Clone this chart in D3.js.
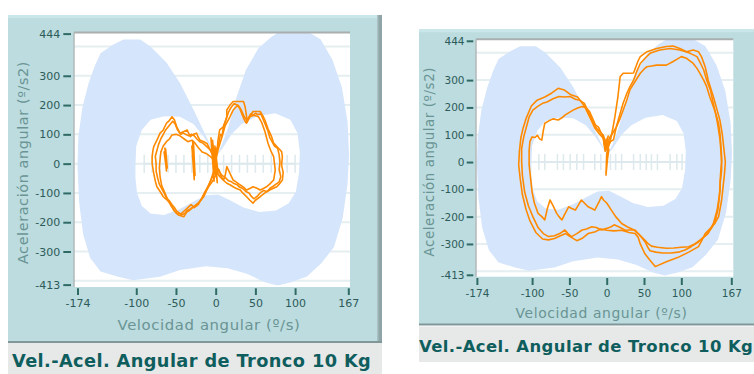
<!DOCTYPE html>
<html><head><meta charset="utf-8">
<script src="https://cdn.jsdelivr.net/npm/d3@7"></script>
<style>body{margin:0;background:#fff}svg{display:block}</style>
</head><body>
<svg id="c" width="754" height="374"></svg>
<script>
// ---------------- DATA ----------------
const chartTitle = "Vel.-Acel. Angular de Tronco 10 Kg";
const xAxisTitle = "Velocidad angular (º/s)";
const yAxisTitle = "Aceleración angular (º/s2)";
const xDomain = [-174, 167];
const yDomain = [-413, 444];
const xTickValues = [-174, -100, -50, 0, 50, 100, 167];
const yTickValues = [444, 300, 200, 100, 0, -100, -200, -300, -413];
const gridValues = [-400, -300, -200, -100, 0, 100, 200, 300, 400];

// normal-range band (outer silhouette and inner hole), in data units
const bandOuter = [[-116,424],[-95,424],[-82,400],[-62,345],[-45,275],[-28,185],[-14,105],[-5,55],[1,28],[7,60],[16,125],[26,225],[38,320],[54,395],[70,432],[85,458],[110,460],[132,425],[147,355],[159,260],[166,145],[168,30],[166,-70],[160,-185],[149,-285],[133,-340],[115,-385],[95,-405],[78,-416],[62,-405],[40,-377],[15,-357],[-12,-350],[-45,-363],[-70,-386],[-104,-398],[-124,-385],[-145,-368],[-158,-322],[-167,-240],[-172,-130],[-174,-10],[-173,90],[-168,190],[-160,275],[-152,335],[-145,377],[-130,405]];
const bandInner = [[-101,0],[-100,60],[-93,115],[-82,150],[-65,162],[-45,160],[-28,135],[-15,92],[-5,50],[1,25],[8,50],[20,100],[33,135],[52,162],[75,172],[94,150],[103,105],[106,40],[105,-30],[101,-95],[92,-135],[76,-160],[55,-165],[35,-150],[18,-125],[3,-105],[-12,-108],[-25,-125],[-45,-155],[-65,-175],[-82,-170],[-93,-145],[-99,-100],[-101,-50]];

// left chart trajectories
const leftLoop1 = [[0,25],[2,50],[3,81],[5,115],[10,126],[14,160],[14,183],[18,200],[22,212],[28,212],[35,212],[37,195],[39,160],[39,138],[43,160],[47,178],[52,178],[56,178],[60,160],[62,149],[66,118],[70,95],[73,70],[77,58],[80,50],[83,41],[84,24],[83,-5],[85,-30],[84,-56],[80,-70],[77,-79],[72,-85],[68,-90],[62,-100],[56,-113],[50,-125],[47,-135],[43,-125],[39,-113],[34,-100],[31,-90],[26,-85],[22,-79],[18,-72],[14,-67],[9,-55],[5,-44],[2,-30],[-1,-45],[-3,-56],[-6,-68],[-9,-79],[-12,-95],[-15,-113],[-19,-125],[-22,-135],[-26,-143],[-30,-152],[-33,-160],[-36,-164],[-40,-181],[-44,-178],[-47,-175],[-50,-168],[-53,-158],[-57,-135],[-61,-125],[-66,-113],[-70,-95],[-74,-79],[-76,-60],[-78,-33],[-80,0],[-80,24],[-79,45],[-78,58],[-74,80],[-70,104],[-66,115],[-62,138],[-59,145],[-55,160],[-52,150],[-49,126],[-45,104],[-40,110],[-36,115],[-32,92],[-28,100],[-24,104],[-22,90],[-20,81],[-15,75],[-11,69],[-7,47],[-3,24],[0,25]];
const leftLoop2 = [[0,10],[3,47],[8,92],[12,130],[18,160],[22,183],[28,200],[32,185],[36,160],[39,149],[43,160],[48,165],[54,160],[58,140],[62,110],[66,69],[70,40],[73,24],[75,-22],[73,-56],[68,-70],[64,-79],[60,-85],[56,-90],[52,-84],[47,-79],[43,-85],[39,-90],[35,-80],[31,-73],[26,-63],[22,-56],[18,-33],[14,-10],[12,-40],[10,-56],[7,-45],[4,-20],[0,-10],[-3,-30],[-6,-55],[-10,-80],[-14,-100],[-18,-120],[-22,-140],[-27,-150],[-31,-140],[-35,-150],[-39,-160],[-43,-170],[-48,-172],[-52,-160],[-56,-145],[-60,-125],[-64,-100],[-68,-75],[-70,-45],[-71,-15],[-70,15],[-69,40],[-66,60],[-62,75],[-58,85],[-55,98],[-50,100],[-45,95],[-40,85],[-35,75],[-30,80],[-26,70],[-22,55],[-17,40],[-12,35],[-7,25],[-3,15],[0,10]];
const leftLoop3 = [[0,40],[4,70],[6,100],[8,95],[10,130],[13,150],[16,175],[19,190],[23,205],[27,200],[30,190],[33,170],[36,150],[38,140],[41,155],[44,170],[47,165],[50,172],[53,168],[57,170],[60,150],[63,130],[66,110],[68,90],[71,75],[74,60],[78,52],[80,30],[81,5],[80,-20],[82,-45],[80,-62],[76,-70],[72,-78],[68,-85],[65,-95],[60,-92],[56,-100],[52,-112],[48,-120],[45,-112],[42,-100],[38,-95],[34,-85],[30,-80],[27,-72],[23,-68],[20,-62],[16,-58],[12,-48],[8,-40],[4,-25],[1,-15],[-2,-35],[-5,-50],[-8,-70],[-11,-85],[-14,-100],[-17,-118],[-20,-130],[-24,-140],[-28,-148],[-32,-155],[-36,-160],[-39,-170],[-43,-175],[-46,-168],[-49,-162],[-52,-150],[-55,-140],[-58,-128],[-62,-118],[-65,-100],[-68,-85],[-71,-70],[-73,-50],[-75,-25],[-75,0],[-76,25],[-74,45],[-72,65],[-69,85],[-66,100],[-63,115],[-60,125],[-57,135],[-54,145],[-51,135],[-48,115],[-44,100],[-41,105],[-38,100],[-34,95],[-31,100],[-27,95],[-24,85],[-20,75],[-16,70],[-12,60],[-8,50],[-4,42],[0,40]];
const leftBurstA = [[-64,55],[-62,-20],[-65,40],[-61,-15],[-63,50],[-62,-25],[-64,30]];
const leftBurstB = [[-29,80],[-27,-55],[-30,60],[-27,-50],[-28,75],[-26,-40],[-29,40]];
const leftBurstC = [[-6,90],[-2,-60],[-5,70],[0,-40],[-4,80],[2,-65],[-1,60],[3,-30],[-3,50]];

// right chart trajectories
const rightLoop1 = [[0,45],[4,68],[8,120],[11,166],[15,239],[18,312],[22,325],[30,325],[36,326],[42,370],[45,386],[54,404],[67,416],[80,423],[89,425],[98,416],[107,404],[116,410],[123,404],[127,386],[132,349],[136,300],[143,239],[148,190],[152,150],[155,100],[157,50],[159,0],[158,-40],[156,-90],[154,-140],[150,-200],[145,-225],[140,-240],[132,-262],[127,-290],[123,-310],[110,-330],[95,-350],[80,-365],[65,-383],[58,-360],[51,-335],[45,-300],[42,-275],[38,-262],[30,-258],[20,-250],[10,-252],[0,-250],[-8,-245],[-15,-255],[-25,-262],[-32,-278],[-40,-288],[-48,-275],[-55,-262],[-62,-270],[-70,-280],[-78,-285],[-86,-282],[-95,-258],[-103,-215],[-108,-175],[-113,-120],[-116,-60],[-118,-10],[-117,40],[-115,90],[-112,125],[-108,160],[-101,205],[-94,225],[-83,238],[-74,252],[-65,270],[-57,264],[-48,246],[-39,238],[-30,205],[-22,160],[-16,125],[-10,104],[-4,85],[0,45]];
const rightLoop2 = [[1,60],[5,75],[9,81],[13,130],[18,178],[22,215],[27,252],[31,275],[36,300],[40,330],[45,361],[52,382],[58,398],[71,410],[85,416],[98,410],[105,405],[112,398],[121,386],[126,360],[130,337],[134,300],[139,264],[142,225],[145,190],[148,150],[150,117],[152,80],[153,44],[154,0],[153,-29],[152,-70],[152,-103],[150,-140],[148,-176],[143,-225],[136,-261],[130,-275],[125,-286],[118,-300],[110,-310],[100,-312],[90,-315],[80,-316],[68,-312],[60,-308],[56,-300],[51,-286],[46,-272],[42,-261],[38,-249],[30,-249],[25,-250],[16,-237],[10,-230],[6,-237],[0,-243],[-7,-249],[-14,-240],[-20,-237],[-27,-245],[-33,-249],[-40,-262],[-47,-273],[-52,-262],[-56,-249],[-63,-262],[-70,-270],[-78,-273],[-85,-262],[-92,-240],[-99,-200],[-105,-160],[-110,-110],[-113,-50],[-114,0],[-114,50],[-111,95],[-107,135],[-104,165],[-99,190],[-92,205],[-86,215],[-80,220],[-72,232],[-64,240],[-56,238],[-49,240],[-42,230],[-36,226],[-30,215],[-24,180],[-19,150],[-14,125],[-9,110],[-5,100],[1,60]];
const rightLoop3 = [[-2,40],[4,90],[9,110],[13,129],[18,160],[22,190],[27,228],[31,264],[38,295],[45,325],[50,340],[54,349],[60,352],[67,355],[75,355],[80,355],[89,368],[95,378],[100,386],[107,380],[116,361],[121,343],[125,325],[130,300],[134,276],[138,240],[143,203],[147,170],[150,140],[152,100],[153,60],[154,20],[154,-30],[152,-80],[151,-130],[149,-175],[146,-210],[141,-240],[135,-262],[128,-280],[122,-295],[113,-310],[105,-322],[96,-330],[86,-333],[75,-333],[66,-330],[58,-325],[55,-312],[52,-295],[48,-280],[42,-262],[36,-248],[28,-238],[20,-225],[12,-200],[6,-175],[0,-150],[-4,-140],[-7,-127],[-11,-150],[-16,-176],[-20,-170],[-25,-164],[-30,-150],[-34,-139],[-38,-158],[-42,-176],[-47,-170],[-51,-164],[-56,-190],[-60,-212],[-64,-200],[-67,-188],[-72,-160],[-76,-139],[-80,-175],[-83,-212],[-87,-200],[-92,-188],[-97,-150],[-100,-110],[-102,-60],[-104,-10],[-104,40],[-103,75],[-100,92],[-96,90],[-93,98],[-90,85],[-87,80],[-85,115],[-83,142],[-78,150],[-72,158],[-65,154],[-60,162],[-56,172],[-50,182],[-45,190],[-39,198],[-33,203],[-28,200],[-23,185],[-19,160],[-15,135],[-11,128],[-8,110],[-5,92],[-2,40]];
const rightSpike = [[-5,100],[-3,60],[2,95],[-2,40],[4,75],[0,30],[-1,-48],[1,10],[3,50]];

// event markers along the zero line (velocity values)
const leftMarkers = [-90,-80,-70,-60,-50,-40,-30,-20,-10,0,10,20,30,40,50,60,70,80,90,100];
const rightMarkers = [-91,-83,-66,-58,-49,-40,-31,-16,-8,5,12,20,36,45,53,60,68,85,94,101];

// ---------------- LAYOUT ----------------
const layouts = [
  {id:"L", panel:[8,15,377,342], shadowX:[377,382], bottomLine:341, titleBar:[8,343,382,374],
   plot:[74,32.5,350,287], xRange:[77.5,348.3], yRange:[284.6,33.6],
   yAxisX:71, yTick:7.7, yPad:3, xAxisY:288.3, xTick:6.7, xPad:4.5,
   tickFont:11, xTitleX:209, xTitleY:330, xTitleW:185, yTitleX:28, yTitleY:162.5, yTitleW:205,
   titleX:12, titleY:367, titleW:360, markerH:9,
   loops:[leftLoop1,leftLoop2,leftLoop3], bursts:[leftBurstA,leftBurstB,leftBurstC], markers:leftMarkers},
  {id:"R", panel:[419,29.3,760,324], shadowX:null, bottomLine:323.5, titleBar:[419,326.5,760,362],
   plot:[476,39.3,733.3,276.7], xRange:[476.9,731.3], yRange:[274.8,40.8],
   yAxisX:473.3, yTick:6.6, yPad:2.2, xAxisY:278, xTick:7, xPad:4.5,
   tickFont:10.5, xTitleX:601.5, xTitleY:318, xTitleW:173, yTitleX:433.5, yTitleY:161.7, yTitleW:190,
   titleX:419, titleY:352, titleW:334, markerH:8,
   loops:[rightLoop1,rightLoop2,rightLoop3], bursts:[rightSpike], markers:rightMarkers}
];

const svg = d3.select("#c");
const defs = svg.append("defs");

function fitText(sel, base, target) {
  const w = sel.node().getComputedTextLength();
  sel.attr("font-size", base * target / w);
}

layouts.forEach(L => {
  const g = svg.append("g");
  const [px0,py0,px1,py1] = L.panel;
  g.append("rect").attr("x",px0).attr("y",py0).attr("width",px1-px0).attr("height",py1-py0).attr("fill","#bcdcdf");
  g.append("rect").attr("x",px0).attr("y",py0).attr("width",px1-px0).attr("height",3).attr("fill","#c9e6e9");
  if (L.shadowX) {
    g.append("rect").attr("x",L.shadowX[0]).attr("y",py0).attr("width",L.shadowX[1]-L.shadowX[0]).attr("height",py1-py0+1).attr("fill","#8fa5a7");
    g.append("rect").attr("x",L.shadowX[0]).attr("y",py0).attr("width",1.5).attr("height",py1-py0+1).attr("fill","#a9c1c3");
  }
  g.append("rect").attr("x",px0).attr("y",L.bottomLine).attr("width",(L.shadowX?L.shadowX[1]:px1)-px0).attr("height",2).attr("fill","#80979a");
  const tb = L.titleBar;
  g.append("rect").attr("x",tb[0]).attr("y",tb[1]).attr("width",tb[2]-tb[0]).attr("height",tb[3]-tb[1]).attr("fill","#e7e8e8");

  const x = d3.scaleLinear().domain(xDomain).range(L.xRange);
  const y = d3.scaleLinear().domain(yDomain).range(L.yRange);
  const [ax0,ay0,ax1,ay1] = L.plot;

  g.append("rect").attr("x",ax0).attr("y",ay0).attr("width",ax1-ax0).attr("height",ay1-ay0).attr("fill","#fff");
  const cid = "clip"+L.id;
  defs.append("clipPath").attr("id",cid).append("rect").attr("x",ax0).attr("y",ay0).attr("width",ax1-ax0).attr("height",ay1-ay0);
  const pg = g.append("g").attr("clip-path",`url(#${cid})`);

  pg.selectAll("line.grid").data(gridValues).join("line").attr("class","grid")
    .attr("x1",ax0).attr("x2",ax1).attr("y1",d=>y(d)).attr("y2",d=>y(d))
    .attr("stroke","#e5eef0").attr("stroke-width",2);

  const lineGen = d3.line().x(d=>x(d[0])).y(d=>y(d[1]));
  pg.append("path").attr("d", lineGen(bandOuter)+"Z"+lineGen(bandInner)+"Z")
    .attr("fill","#d5e5fb").attr("fill-rule","evenodd");

  // zero-line markers
  const mExt = d3.extent(L.markers);
  pg.append("line").attr("x1",x(mExt[0])).attr("x2",x(mExt[1])).attr("y1",y(0)).attr("y2",y(0))
    .attr("stroke","#dde9ec").attr("stroke-width",2);
  pg.selectAll("line.mk").data(L.markers).join("line").attr("class","mk")
    .attr("x1",d=>x(d)).attr("x2",d=>x(d)).attr("y1",y(0)-L.markerH).attr("y2",y(0)+L.markerH)
    .attr("stroke","#dde9ec").attr("stroke-width",1.5);

  L.loops.concat(L.bursts).forEach(l => {
    pg.append("path").attr("d",lineGen(l)).attr("fill","none")
      .attr("stroke","#ff8a00").attr("stroke-width",1.6).attr("stroke-linejoin","round");
  });

  // plot inset borders
  g.append("line").attr("x1",ax0).attr("x2",ax1).attr("y1",ay0).attr("y2",ay0).attr("stroke","#a9aeae").attr("stroke-width",2);
  g.append("line").attr("x1",ax0).attr("x2",ax0).attr("y1",ay0).attr("y2",ay1).attr("stroke","#b3b8b8").attr("stroke-width",1.5);

  // axes
  const tickColor = "#2f6a66", labelColor = "#2d5b59";
  const ya = g.append("g").attr("transform",`translate(${L.yAxisX},0)`)
    .call(d3.axisLeft(y).tickValues(yTickValues).tickSize(L.yTick).tickPadding(L.yPad).tickFormat(d=>String(d)));
  const xa = g.append("g").attr("transform",`translate(0,${L.xAxisY})`)
    .call(d3.axisBottom(x).tickValues(xTickValues).tickSize(L.xTick).tickPadding(L.xPad).tickFormat(d=>String(d)));
  [ya,xa].forEach(a => {
    a.select(".domain").remove();
    a.selectAll(".tick line").attr("stroke",tickColor).attr("stroke-width",2);
    a.selectAll(".tick text").attr("fill",labelColor).attr("font-family","DejaVu Sans, Verdana, sans-serif")
      .attr("font-size",L.tickFont);
  });

  const xt = g.append("text").attr("x",L.xTitleX).attr("y",L.xTitleY).attr("text-anchor","middle")
    .attr("font-family","DejaVu Sans, sans-serif").attr("font-size",13)
    .attr("letter-spacing",0.6).attr("fill","#6a9494").text(xAxisTitle);
  fitText(xt, 13, L.xTitleW);
  const yt = g.append("text").attr("transform",`translate(${L.yTitleX},${L.yTitleY}) rotate(-90)`).attr("text-anchor","middle")
    .attr("font-family","DejaVu Sans, sans-serif").attr("font-size",13)
    .attr("letter-spacing",0.6).attr("fill","#6a9494").text(yAxisTitle);
  fitText(yt, 13, L.yTitleW);

  const t = g.append("text").attr("x",L.titleX).attr("y",L.titleY)
    .attr("font-family","DejaVu Sans, Verdana, sans-serif").attr("font-weight","bold")
    .attr("font-size",17).attr("letter-spacing",0.4).attr("fill","#0f5e5e").text(chartTitle);
  fitText(t, 17, L.titleW);
});
</script>
</body></html>
